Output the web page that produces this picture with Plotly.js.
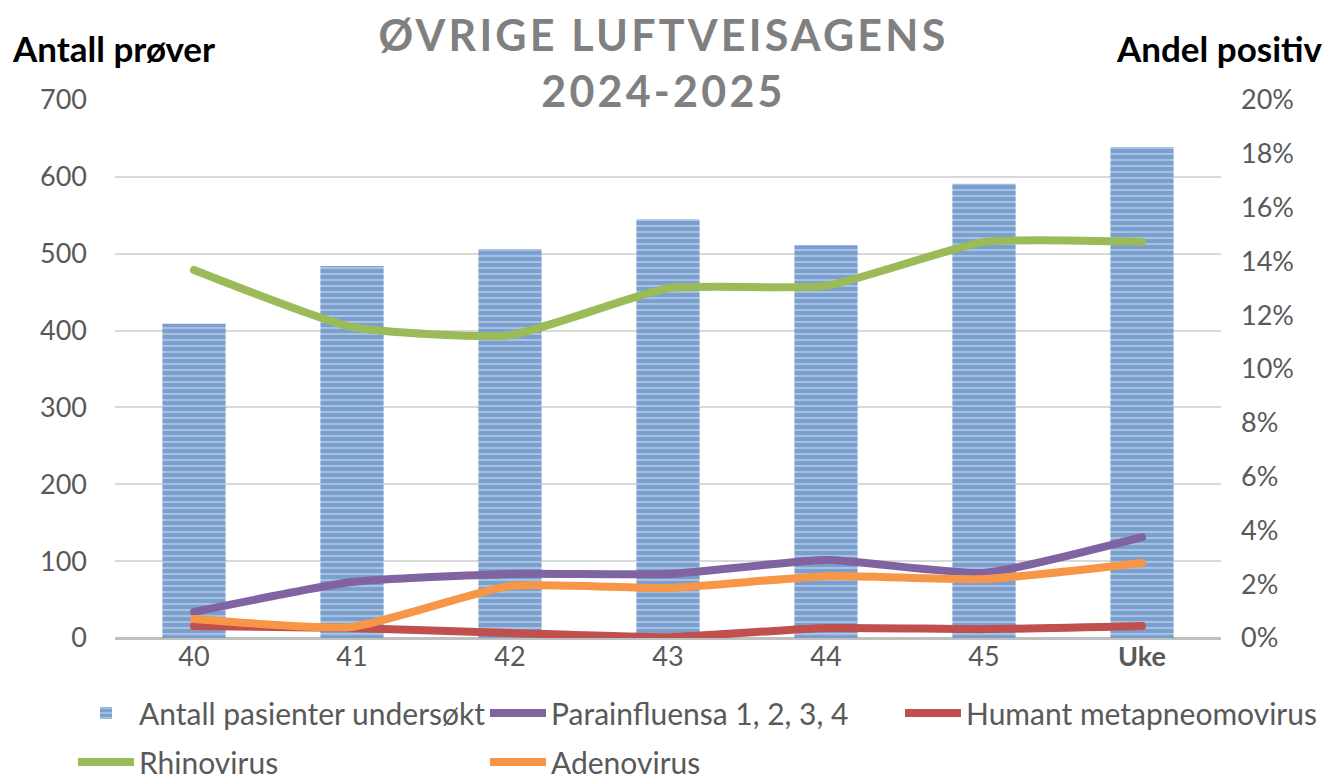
<!DOCTYPE html>
<html><head><meta charset="utf-8">
<script src="https://cdn.plot.ly/plotly-3.0.1.min.js"></script>
<style>
body{margin:0;background:#fff;}
.gtitle{letter-spacing:3.2px;}
.scatterlayer .js-line{stroke-linecap:round !important;stroke-linejoin:round !important;}
</style></head><body><div id="chart" style="width:1327px;height:782px;"></div>
<script>
const weeks = ['40','41','42','43','44','45','Uke'];
const weekLabels = ['40','41','42','43','44','45','<b>Uke</b>'];
const antallPasienter = [409,484,506,545,511,591,639];
const parainfluensa = [0.0097,0.0208,0.0238,0.0238,0.0290,0.0242,0.0375];
const metapneumovirus = [0.0045,0.0037,0.0019,0.0003,0.0037,0.0033,0.0045];
const rhinovirus = [0.1368,0.1156,0.1126,0.1300,0.1309,0.1472,0.1472];
const adenovirus = [0.0071,0.0041,0.0193,0.0186,0.0230,0.0219,0.0279];
const leftTicks = [0,100,200,300,400,500,600,700];
const rightTicks = [0,0.02,0.04,0.06,0.08,0.10,0.12,0.14,0.16,0.18,0.20];

const FONT = 'Lato, "Open Sans", sans-serif';
const legFont = {family: FONT, size: 30, color: '#595959'};
function lineTrace(name, y, color, leg) {
  return {type:'scatter', mode:'lines', name:name, x:weeks, y:y, yaxis:'y2',
    line:{color:color, width:8, shape:'spline', smoothing:0.5}, legend:leg, hoverinfo:'skip'};
}
const data = [
  {type:'bar', name:'Antall pasienter undersøkt', x:weeks, y:antallPasienter, width:0.4,
   marker:{color:'#4F81BD', line:{width:0},
     pattern:{shape:'-', fgcolor:'#4A7EBB', bgcolor:'#A9C1E1', size:6, solidity:0.65, fillmode:'overlay'}},
   legend:'legend', hoverinfo:'skip'},
  lineTrace('Parainfluensa 1, 2, 3, 4', parainfluensa, '#8064A2', 'legend2'),
  lineTrace('Humant metapneomovirus', metapneumovirus, '#C0504D', 'legend3'),
  lineTrace('Rhinovirus', rhinovirus, '#9BBB59', 'legend4'),
  lineTrace('Adenovirus', adenovirus, '#F79646', 'legend5')
];
function leg(xpx, ypx) {
  return {x:xpx/1327, y:1-ypx/782, xref:'container', yref:'container', xanchor:'left', yanchor:'middle',
    orientation:'h', font:legFont, bgcolor:'rgba(0,0,0,0)', itemwidth:56};
}
const layout = {
  width:1327, height:782,
  margin:{l:115, r:106, t:100, b:144},
  paper_bgcolor:'#fff', plot_bgcolor:'#fff',
  font:{family:FONT, color:'#595959'},
  showlegend:true,
  title:{text:'ØVRIGE LUFTVEISAGENS<br>2024-2025', x:0.5, xref:'container', xanchor:'center',
    y:0.935, yref:'container', yanchor:'top',
    font:{family:FONT, size:43, color:'#808080', weight:700}},
  xaxis:{type:'category', tickvals:weeks, ticktext:weekLabels, showgrid:false,
    showline:false, zeroline:false, ticks:'', tickfont:{family:FONT, size:27, color:'#595959'}},
  yaxis:{range:[0,700], tickvals:leftTicks, showgrid:true, gridcolor:'#D9D9D9', gridwidth:2,
    zeroline:true, zerolinecolor:'#BFBFBF', zerolinewidth:3, ticks:'', ticklabelstandoff:27,
    tickfont:{family:FONT, size:27, color:'#595959'}},
  yaxis2:{range:[0,0.2], overlaying:'y', side:'right', tickvals:rightTicks, tickformat:'.0%',
    showgrid:false, zeroline:false, ticks:'', ticklabelstandoff:19,
    tickfont:{family:FONT, size:27, color:'#595959'}},
  legend:leg(73,713), legend2:leg(485,713), legend3:leg(900,713),
  legend4:leg(73,762), legend5:leg(485,762),
  annotations:[
    {text:'<b>Antall prøver</b>', xref:'paper', yref:'paper', x:(10-115)/1106, y:(638-48)/538,
     xanchor:'left', yanchor:'middle', showarrow:false, font:{family:FONT, size:35, color:'#000'}},
    {text:'<b>Andel positiv</b>', xref:'paper', yref:'paper', x:(1325-115)/1106, y:(638-48)/538,
     xanchor:'right', yanchor:'middle', showarrow:false, font:{family:FONT, size:35, color:'#000'}}
  ]
};
Plotly.newPlot('chart', data, layout, {displayModeBar:false, staticPlot:true});
</script></body></html>
